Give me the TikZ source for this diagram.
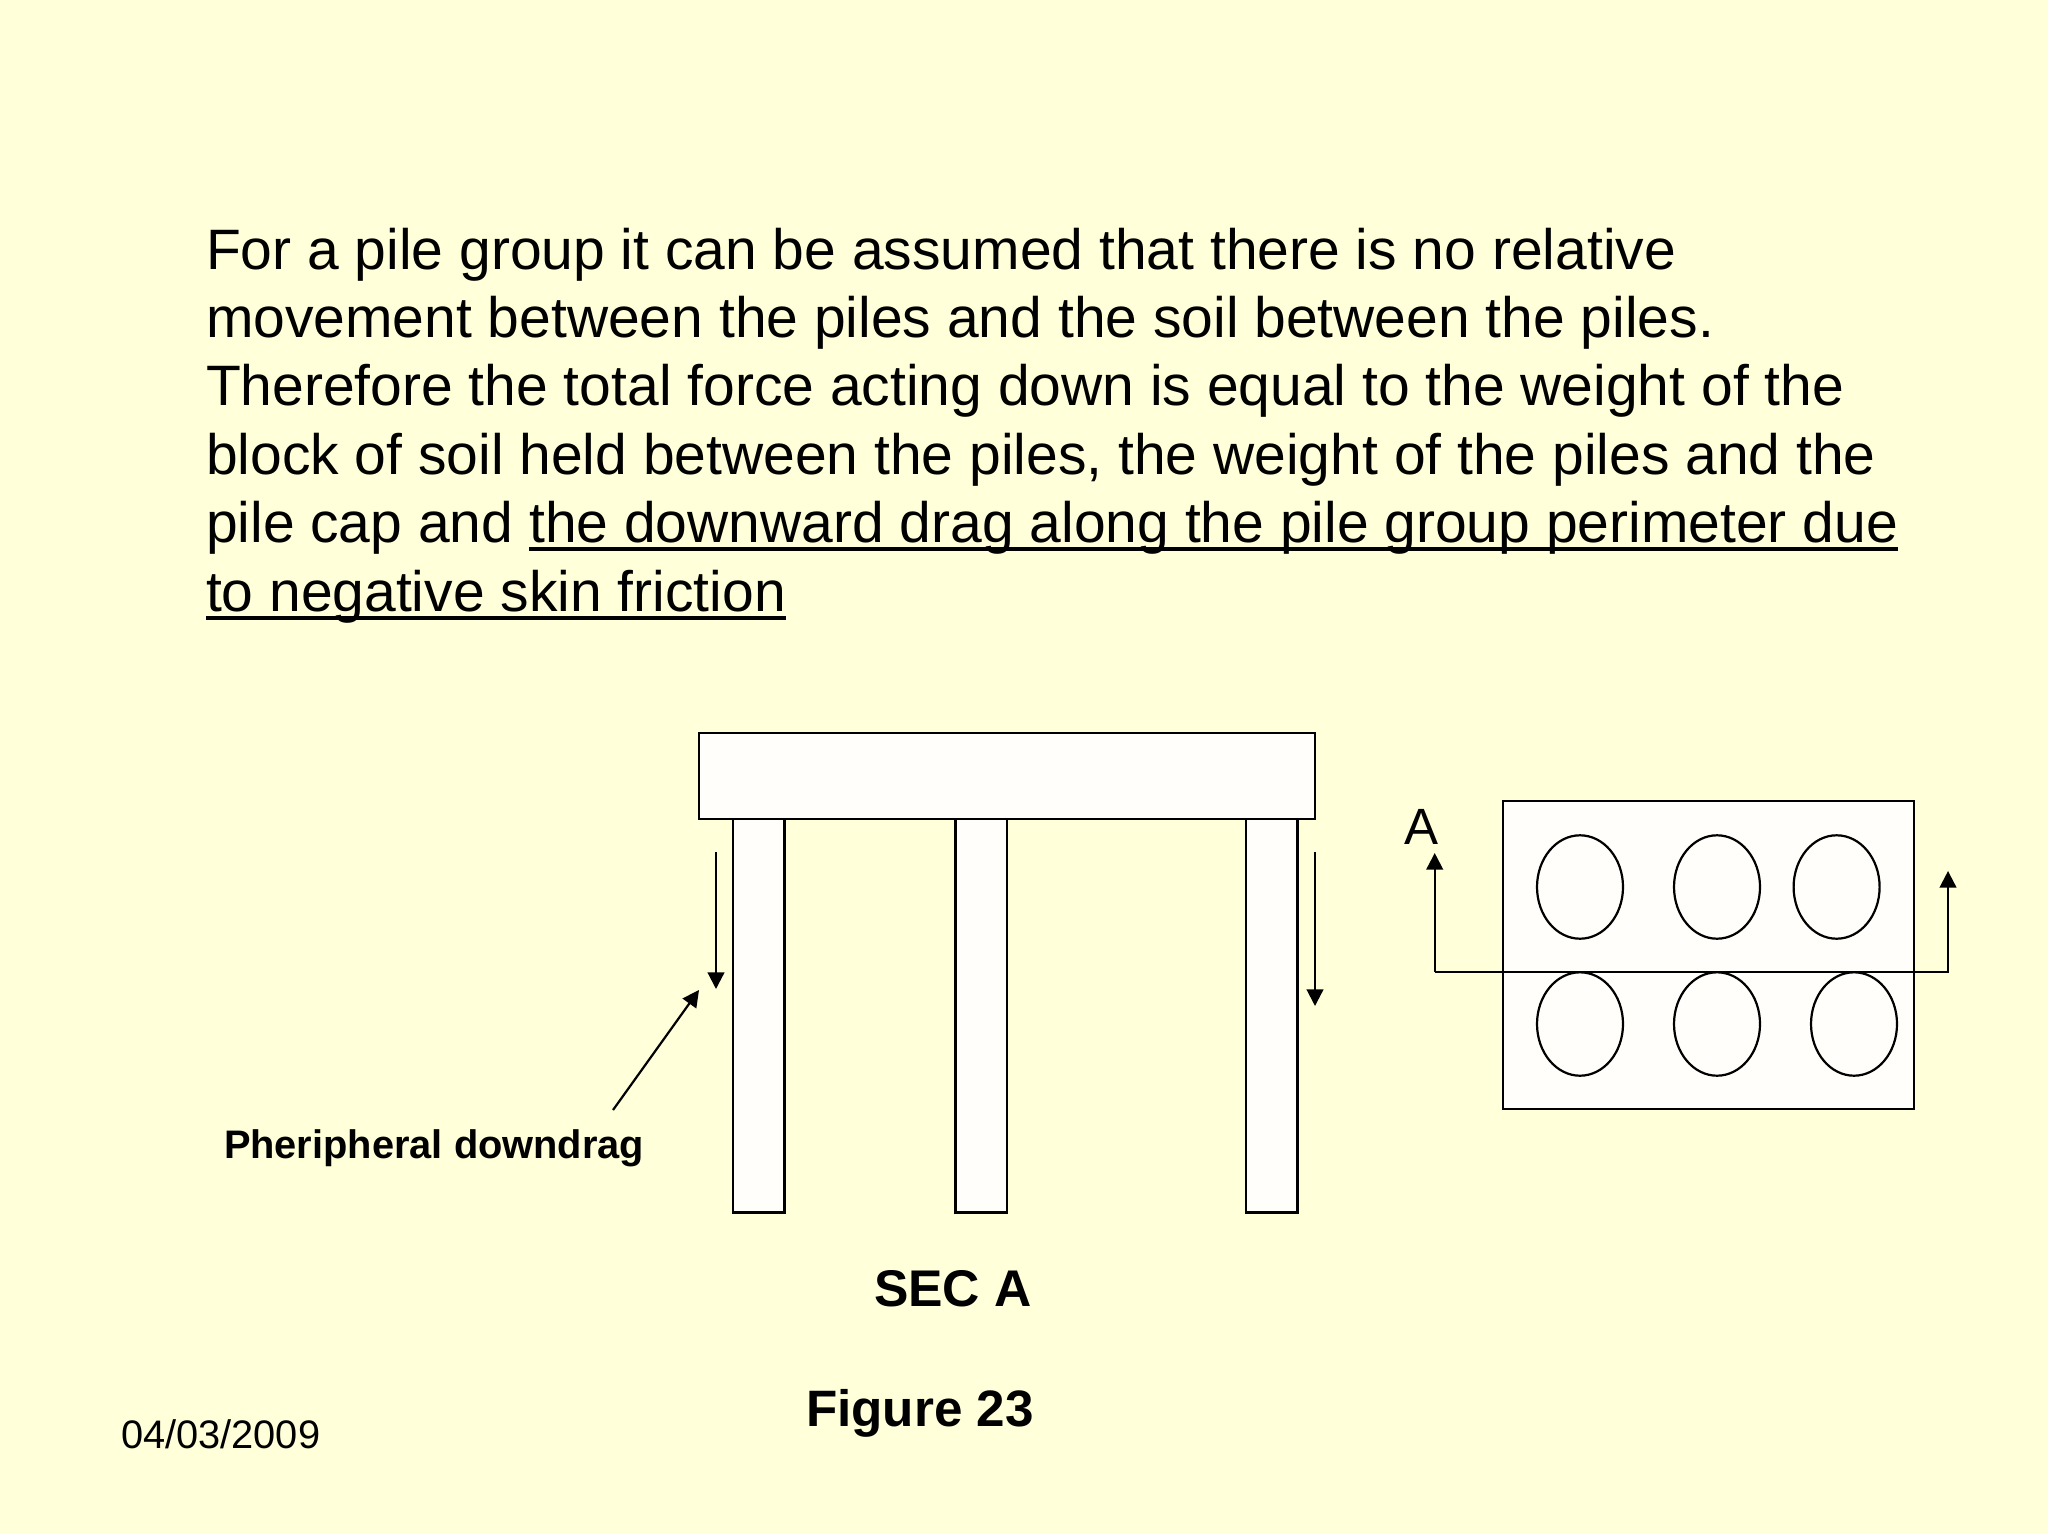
\documentclass[tikz,border=0pt]{standalone}
\usepackage{fontspec}
\setmainfont{Liberation Sans}
\usetikzlibrary{arrows.meta,shapes.geometric}
\definecolor{slidebg}{HTML}{FFFFD9}
\definecolor{partfill}{HTML}{FFFEFA}
\newcommand\ulpart[1]{\setbox0=\hbox{#1}\rlap{\rule[-4.3pt]{\wd0}{2pt}}\box0}
\tikzset{
  part/.style={draw=black,fill=partfill,line width=1.1pt,inner sep=0pt,outer sep=0pt,anchor=north west},
  pile/.style={part,minimum width=25.75pt,minimum height=197pt},
  hole/.style={draw=black,line width=1.1pt,ellipse,inner sep=0pt,outer sep=0pt,minimum width=43pt,minimum height=51.7pt},
  arr/.style={line width=1.1pt,-{Triangle[length=8.3pt,width=8.3pt]}},
  txt/.style={anchor=base west,inner sep=0pt,outer sep=0pt,text=black},
}
\begin{document}
\begin{tikzpicture}[x=0.5pt,y=-0.5pt]
\useasboundingbox (0,0) rectangle (2048,1534);
\fill[slidebg] (0,0) rectangle (2048,1534);
% body text
\node[txt,font=\fontsize{28.5}{34.2}\selectfont,align=left] (body) at (206,611) {For a pile group it can be assumed that there is no relative\\
movement between the piles and the soil between the piles.\\
Therefore the total force acting down is equal to the weight of the\\
block of soil held between the piles, the weight of the piles and the\\
pile cap and \ulpart{the downward drag along the pile group perimeter due}\\
\ulpart{to negative skin friction}};
% piles and cap
\node[pile] (p1) at (733,818.5) {};
\node[pile] (p2) at (955.5,818.5) {};
\node[pile] (p3) at (1246,818.5) {};
\node[part,minimum width=308pt,minimum height=42.8pt] (cap) at (699,733) {};
% downdrag arrows
\coordinate (la) at (716,852);
\coordinate (lb) at (716,989);
\coordinate (ra) at (1315,852);
\coordinate (rb) at (1315,1006);
\draw[arr] (la) -- (lb);
\draw[arr] (ra) -- (rb);
% label and pointer
\node[txt,font=\fontsize{19.9}{24}\selectfont\bfseries] (lab) at (224,1158.5) {Pheripheral downdrag};
\coordinate (pa) at (613,1110);
\coordinate (pb) at (699,990);
\draw[arr] (pa) -- (pb);
% plan
\node[part,minimum width=205.5pt,minimum height=154pt] (plan) at (1503,801) {};
\node[hole] (h1) at (1580,887) {};
\node[hole] (h2) at (1717,887) {};
\node[hole] (h3) at (1836.6,887) {};
\node[hole] (h4) at (1580,1024) {};
\node[hole] (h5) at (1717,1024) {};
\node[hole] (h6) at (1854,1024) {};
% section line
\coordinate (sa) at (1434.7,853);
\coordinate (sb) at (1434.7,972);
\coordinate (sc) at (1948,972);
\coordinate (sd) at (1948,871);
\draw[arr] (sb) -- (sa);
\draw[arr] (sb) -- (sc) -- (sd);
\node[txt,font=\fontsize{25.5}{30}\selectfont] (a) at (1404,844) {A};
% captions
\node[txt,font=\fontsize{25.8}{30}\selectfont\bfseries] (sec) at (874,1306) {SEC A};
\node[txt,font=\fontsize{25.6}{30}\selectfont\bfseries] (fig) at (806,1426) {Figure 23};
\node[txt,font=\fontsize{19.9}{24}\selectfont] (date) at (121,1448) {04/03/2009};
\end{tikzpicture}
\end{document}
